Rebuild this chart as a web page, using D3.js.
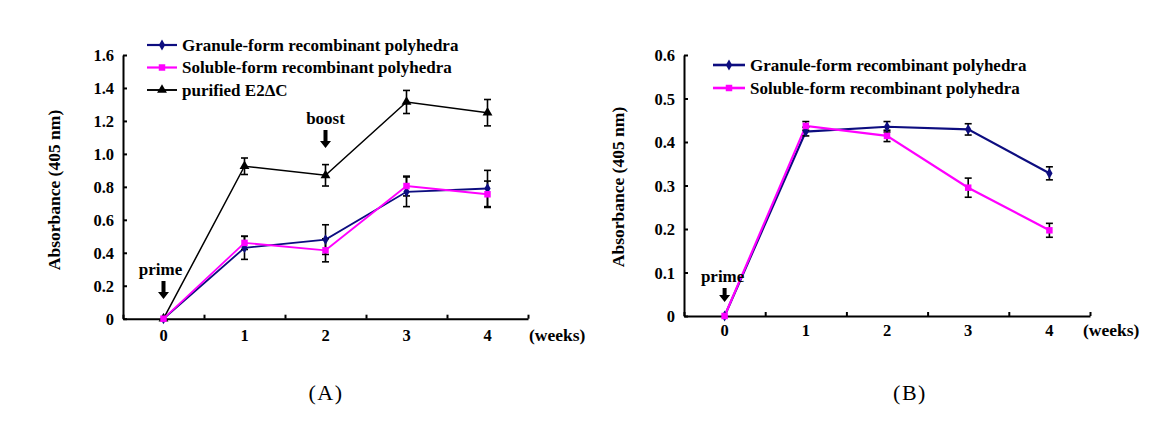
<!DOCTYPE html>
<html><head><meta charset="utf-8">
<script src="https://cdn.jsdelivr.net/npm/d3@7"></script>
<style>body{margin:0;background:#fff}svg{display:block}</style>
</head><body>
<svg id="c" width="1161" height="425"></svg>
<script>
const weeks = [0, 1, 2, 3, 4];
const xTickLabels = ["0", "1", "2", "3", "4"];
const seriesNames = ["Granule-form recombinant polyhedra", "Soluble-form recombinant polyhedra", "purified E2\u0394C"];
const captions = ["(A)", "(B)"];

const granuleA = [0, 0.43, 0.48, 0.77, 0.79];
const granuleAErr = [0, 0.07, 0.09, 0.09, 0.11];
const solubleA = [0, 0.46, 0.415, 0.805, 0.755];
const solubleAErr = [0, 0.04, 0.07, 0.06, 0.08];
const purifiedA = [0, 0.925, 0.87, 1.315, 1.25];
const purifiedAErr = [0, 0.05, 0.065, 0.07, 0.08];
const yTicksA = [0, 0.2, 0.4, 0.6, 0.8, 1.0, 1.2, 1.4, 1.6];

const granuleB = [0, 0.424, 0.435, 0.429, 0.328];
const granuleBErr = [0, 0.01, 0.012, 0.013, 0.015];
const solubleB = [0, 0.437, 0.414, 0.295, 0.197];
const solubleBErr = [0, 0.01, 0.013, 0.022, 0.016];
const yTicksB = [0, 0.1, 0.2, 0.3, 0.4, 0.5, 0.6];

const NAVY = "#0d0d80", MAG = "#ff00ff", BLK = "#000";
const FONT = "'Liberation Serif','Times New Roman',serif";
const FS = 16.5;
const svg = d3.select("#c");

function fmt(v){ return v === 0 ? "0" : d3.format(".1f")(v); }

function panel(o){
  const g = svg.append("g");
  const x = d3.scaleLinear().domain([-0.5, 4.5]).range(o.xr);
  const y = d3.scaleLinear().domain([0, o.ymax]).range(o.yr);
  const ya = d3.axisLeft(y).tickValues(o.yticks).tickFormat(fmt).tickSizeInner(-4).tickSizeOuter(0).tickPadding(9);
  const gy = g.append("g").attr("transform", `translate(${o.xr[0]},0)`).call(ya);
  const xa = d3.axisBottom(x).tickValues([-0.5,0.5,1.5,2.5,3.5,4.5]).tickFormat("").tickSizeInner(-4).tickSizeOuter(0);
  const gx = g.append("g").attr("transform", `translate(0,${o.yr[0]})`).call(xa);
  [gx, gy].forEach(a => {
    a.select(".domain").attr("stroke", BLK).attr("stroke-width", 2);
    a.selectAll(".tick line").attr("stroke", BLK).attr("stroke-width", 2);
    a.selectAll("text").attr("font-family", FONT).attr("font-weight", "bold").attr("font-size", FS).attr("fill", BLK);
  });
  gy.selectAll(".tick text").attr("dy", "0.35em");
  g.selectAll(".xl").data(weeks).join("text")
    .attr("x", d => x(d)).attr("y", o.yr[0] + o.xlab)
    .attr("text-anchor", "middle").attr("font-family", FONT).attr("font-weight", "bold").attr("font-size", FS)
    .text((d,i) => xTickLabels[i]);
  g.append("text").attr("x", x(4.5) + o.wdx).attr("y", o.yr[0] + o.xlab)
    .attr("font-family", FONT).attr("font-weight", "bold").attr("font-size", FS + 1).text("(weeks)");
  g.append("text").attr("transform", `translate(${o.ylabX},${o.ylabY}) rotate(-90)`)
    .attr("text-anchor", "middle").attr("font-family", FONT).attr("font-weight", "bold").attr("font-size", 17.5)
    .text("Absorbance (405 nm)");

  const line = d3.line().x((d,i) => x(weeks[i])).y(d => y(d));
  o.series.forEach(s => {
    g.append("path").datum(s.v).attr("d", line).attr("fill", "none").attr("stroke", s.c).attr("stroke-width", s.w);
  });
  o.series.forEach(s => {
    const eg = g.append("g");
    s.v.forEach((v,i) => {
      if (!s.e[i]) return;
      const cx = x(weeks[i]), t = y(v + s.e[i]), b = y(v - s.e[i]);
      eg.append("line").attr("x1", cx).attr("x2", cx).attr("y1", t).attr("y2", b).attr("stroke", BLK).attr("stroke-width", 1.6);
      eg.append("line").attr("x1", cx-3.5).attr("x2", cx+3.5).attr("y1", t).attr("y2", t).attr("stroke", BLK).attr("stroke-width", 1.6);
      eg.append("line").attr("x1", cx-3.5).attr("x2", cx+3.5).attr("y1", b).attr("y2", b).attr("stroke", BLK).attr("stroke-width", 1.6);
    });
  });
  o.series.forEach(s => {
    g.selectAll(null).data(s.v).join("path")
      .attr("transform", (d,i) => `translate(${x(weeks[i])},${y(d)})`)
      .attr("d", d3.symbol().type(s.sym).size(s.size)).attr("fill", s.c);
  });
  o.legendOrder.forEach((si,i) => {
    const s = o.series[si];
    const ly = o.leg[1] + i * o.leg[3];
    g.append("line").attr("x1", o.leg[0]).attr("x2", o.leg[0] + o.leg[2]).attr("y1", ly).attr("y2", ly).attr("stroke", s.c).attr("stroke-width", s.w + 0.4);
    g.append("path").attr("transform", `translate(${o.leg[0] + o.leg[2]/2},${ly})`).attr("d", d3.symbol().type(s.sym).size(s.size)).attr("fill", s.c);
    g.append("text").attr("x", o.leg[0] + o.leg[2] + 5).attr("y", ly).attr("dy", "0.33em")
      .attr("font-family", FONT).attr("font-weight", "bold").attr("font-size", 17).text(s.name);
  });
  o.arrows.forEach(a => {
    const ax = x(a.w), top = a.top;
    g.append("text").attr("x", ax + (a.dx||0)).attr("y", top - 6).attr("text-anchor", "middle")
      .attr("font-family", FONT).attr("font-weight", "bold").attr("font-size", 17).text(a.label);
    g.append("path").attr("d", `M${ax-2},${top} h4 v${a.len-6} h3.5 l-5.5,7 l-5.5,-7 h3.5 z`).attr("fill", BLK);
  });
  g.append("text").attr("x", o.cap[0]).attr("y", o.cap[1]).attr("text-anchor", "middle")
    .attr("font-family", FONT).attr("font-size", 22).attr("letter-spacing", 1.5).text(o.capText);
  return {x, y};
}

panel({
  xr: [123, 528], yr: [318.7, 55], ymax: 1.6, yticks: yTicksA, xlab: 22, ylabX: 60, ylabY: 190, wdx: 1,
  series: [
    {name: seriesNames[0], v: granuleA, e: granuleAErr, c: NAVY, w: 1.8, sym: d3.symbolDiamond, size: 34},
    {name: seriesNames[2], v: purifiedA, e: purifiedAErr, c: BLK, w: 1.5, sym: d3.symbolTriangle, size: 42},
    {name: seriesNames[1], v: solubleA, e: solubleAErr, c: MAG, w: 1.8, sym: d3.symbolSquare, size: 42}
  ],
  legendOrder: [0, 2, 1],
  leg: [147, 45, 30, 22.5],
  arrows: [{w: 0, top: 281, len: 17, label: "prime", dx: -3}, {w: 2, top: 130, len: 17, label: "boost"}],
  cap: [326, 400], capText: captions[0]
});

panel({
  xr: [684, 1090], yr: [316, 55], ymax: 0.6, yticks: yTicksB, xlab: 20, ylabX: 624, ylabY: 187, wdx: -7,
  series: [
    {name: seriesNames[0], v: granuleB, e: granuleBErr, c: NAVY, w: 2.2, sym: d3.symbolDiamond, size: 34},
    {name: seriesNames[1], v: solubleB, e: solubleBErr, c: MAG, w: 2.2, sym: d3.symbolSquare, size: 42}
  ],
  legendOrder: [0, 1],
  leg: [713, 65, 32, 23],
  arrows: [{w: 0, top: 288, len: 13, label: "prime", dx: -2}],
  cap: [910, 400], capText: captions[1]
});
</script>
</body></html>
